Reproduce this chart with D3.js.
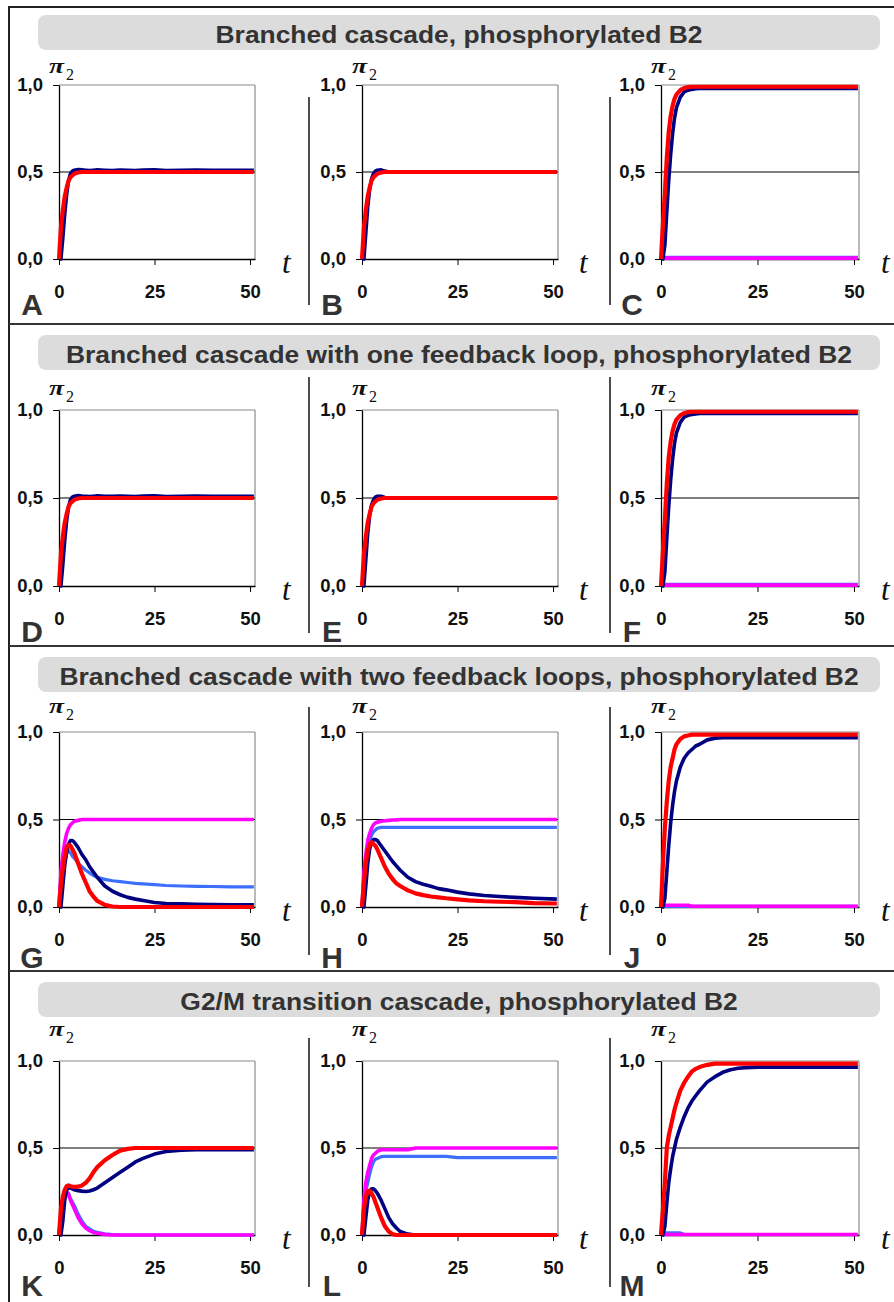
<!DOCTYPE html>
<html><head><meta charset="utf-8">
<script src="https://cdn.jsdelivr.net/npm/d3@7"></script>
<style>body{margin:0;background:#fff}svg{display:block}</style>
</head><body>
<svg id="c" width="894" height="1302"></svg>
<script>
// ---------- DATA ----------
const T = [0,0.5,1,1.5,2,2.5,3,3.5,4,5,6,7,8,9,10,12,14,16,18,20,22,25,28,32,36,40,45,51];
const yTickValues = [0,0.5,1];
const yTickLabels = ["0,0","0,5","1,0"];
const xTickValues = [0,25,50];
const xTickLabels = ["0","25","50"];
const rowTitles = [
  "Branched cascade, phosphorylated B2",
  "Branched cascade with one feedback loop, phosphorylated B2",
  "Branched cascade with two feedback loops, phosphorylated B2",
  "G2/M transition cascade, phosphorylated B2"
];
const panelLetters = ["A","B","C","D","E","F","G","H","J","K","L","M"];

const A_navy = [0,0,0.12,0.26,0.37,0.45,0.49,0.505,0.51,0.514,0.512,0.51,0.508,0.51,0.512,0.51,0.508,0.511,0.51,0.508,0.511,0.512,0.508,0.51,0.511,0.51,0.51,0.51];
const A_red  = [0,0.18,0.28,0.36,0.41,0.45,0.47,0.48,0.49,0.497,0.5,0.5,0.5,0.5,0.5,0.5,0.5,0.5,0.5,0.5,0.5,0.5,0.5,0.5,0.5,0.5,0.5,0.5];
const B_navy = [0,0,0.15,0.3,0.4,0.46,0.49,0.505,0.51,0.512,0.505,0.5,0.5,0.5,0.5,0.5,0.5,0.5,0.5,0.5,0.5,0.5,0.5,0.5,0.5,0.5,0.5,0.5];
const B_red  = [0,0.18,0.28,0.36,0.41,0.45,0.47,0.48,0.49,0.497,0.5,0.5,0.5,0.5,0.5,0.5,0.5,0.5,0.5,0.5,0.5,0.5,0.5,0.5,0.5,0.5,0.5,0.5];
const C_blue = [0.01,0.01,0.01,0.01,0.01,0.01,0.01,0.01,0.01,0.01,0.01,0.01,0.01,0.01,0.01,0.01,0.01,0.01,0.01,0.01,0.01,0.01,0.01,0.01,0.01,0.01,0.01,0.01];
const C_magenta = [0.005,0.005,0.005,0.005,0.005,0.005,0.005,0.005,0.005,0.005,0.005,0.005,0.005,0.005,0.005,0.005,0.005,0.005,0.005,0.005,0.005,0.005,0.005,0.005,0.005,0.005,0.005,0.005];
const C_navy = [0,0,0.08,0.27,0.45,0.6,0.72,0.81,0.87,0.93,0.96,0.97,0.975,0.978,0.98,0.98,0.98,0.98,0.98,0.98,0.98,0.98,0.98,0.98,0.98,0.98,0.98,0.98];
const C_red  = [0,0.2,0.38,0.58,0.73,0.82,0.88,0.92,0.945,0.97,0.982,0.988,0.99,0.99,0.99,0.99,0.99,0.99,0.99,0.99,0.99,0.99,0.99,0.99,0.99,0.99,0.99,0.99];

const D_navy = [0,0,0.12,0.26,0.37,0.45,0.49,0.505,0.51,0.514,0.511,0.51,0.508,0.51,0.512,0.51,0.509,0.511,0.51,0.508,0.511,0.512,0.508,0.51,0.511,0.51,0.51,0.51];
const D_red  = [0,0.18,0.28,0.36,0.41,0.45,0.47,0.48,0.49,0.497,0.5,0.5,0.5,0.5,0.5,0.5,0.5,0.5,0.5,0.5,0.5,0.5,0.5,0.5,0.5,0.5,0.5,0.5];
const E_navy = [0,0,0.15,0.3,0.4,0.46,0.49,0.505,0.51,0.51,0.503,0.5,0.5,0.5,0.5,0.5,0.5,0.5,0.5,0.5,0.5,0.5,0.5,0.5,0.5,0.5,0.5,0.5];
const E_red  = [0,0.18,0.28,0.36,0.41,0.45,0.47,0.48,0.49,0.497,0.5,0.5,0.5,0.5,0.5,0.5,0.5,0.5,0.5,0.5,0.5,0.5,0.5,0.5,0.5,0.5,0.5,0.5];
const F_blue = [0.01,0.01,0.01,0.01,0.01,0.01,0.01,0.01,0.01,0.01,0.01,0.01,0.01,0.01,0.01,0.01,0.01,0.01,0.01,0.01,0.01,0.01,0.01,0.01,0.01,0.01,0.01,0.01];
const F_magenta = [0.005,0.005,0.005,0.005,0.005,0.005,0.005,0.005,0.005,0.005,0.005,0.005,0.005,0.005,0.005,0.005,0.005,0.005,0.005,0.005,0.005,0.005,0.005,0.005,0.005,0.005,0.005,0.005];
const F_navy = [0,0,0.08,0.27,0.45,0.6,0.72,0.81,0.87,0.93,0.96,0.97,0.975,0.978,0.98,0.98,0.98,0.98,0.98,0.98,0.98,0.98,0.98,0.98,0.98,0.98,0.98,0.98];
const F_red  = [0,0.2,0.38,0.58,0.73,0.82,0.88,0.92,0.945,0.97,0.982,0.988,0.99,0.99,0.99,0.99,0.99,0.99,0.99,0.99,0.99,0.99,0.99,0.99,0.99,0.99,0.99,0.99];

const G_blue = [0,0.1,0.2,0.27,0.31,0.32,0.31,0.29,0.28,0.25,0.23,0.21,0.195,0.18,0.17,0.158,0.15,0.145,0.14,0.135,0.132,0.128,0.123,0.12,0.118,0.117,0.115,0.115];
const G_magenta = [0,0.2,0.3,0.37,0.42,0.45,0.47,0.48,0.49,0.495,0.5,0.5,0.5,0.5,0.5,0.5,0.5,0.5,0.5,0.5,0.5,0.5,0.5,0.5,0.5,0.5,0.5,0.5];
const G_navy = [0,0,0.12,0.24,0.31,0.36,0.38,0.38,0.37,0.34,0.3,0.27,0.23,0.2,0.17,0.12,0.09,0.07,0.055,0.045,0.037,0.026,0.02,0.018,0.016,0.014,0.012,0.012];
const G_red  = [0,0.13,0.22,0.29,0.34,0.355,0.35,0.33,0.31,0.25,0.19,0.14,0.09,0.06,0.035,0.012,0.003,0,0,0,0,0,0,0,0,0,0,0];

const H_blue = [0,0.17,0.27,0.33,0.38,0.41,0.43,0.44,0.45,0.455,0.455,0.455,0.455,0.455,0.455,0.455,0.455,0.455,0.455,0.455,0.455,0.455,0.455,0.455,0.455,0.455,0.455,0.455];
const H_magenta = [0,0.2,0.3,0.38,0.42,0.45,0.47,0.48,0.485,0.49,0.493,0.495,0.497,0.498,0.5,0.5,0.5,0.5,0.5,0.5,0.5,0.5,0.5,0.5,0.5,0.5,0.5,0.5];
const H_navy = [0,0,0.12,0.25,0.33,0.37,0.385,0.385,0.38,0.35,0.32,0.29,0.26,0.235,0.21,0.17,0.145,0.13,0.118,0.105,0.098,0.085,0.075,0.066,0.06,0.055,0.05,0.045];
const H_red  = [0,0.14,0.25,0.32,0.36,0.37,0.36,0.35,0.33,0.28,0.23,0.19,0.16,0.135,0.12,0.095,0.078,0.068,0.06,0.055,0.05,0.044,0.038,0.033,0.03,0.028,0.022,0.02];

const J_blue = [0.004,0.004,0.004,0.004,0.004,0.004,0.004,0.004,0.004,0.004,0.004,0.004,0.004,0.004,0.004,0.004,0.004,0.004,0.004,0.004,0.004,0.004,0.004,0.004,0.004,0.004,0.004,0.004];
const J_magenta = [0.01,0.01,0.01,0.01,0.01,0.01,0.01,0.01,0.01,0.01,0.01,0.01,0.004,0.004,0.004,0.004,0.004,0.004,0.004,0.004,0.004,0.004,0.004,0.004,0.004,0.004,0.004,0.004];
const J_navy = [0,0,0.05,0.2,0.35,0.48,0.58,0.66,0.72,0.8,0.85,0.88,0.9,0.92,0.93,0.955,0.965,0.967,0.967,0.967,0.967,0.967,0.967,0.967,0.967,0.967,0.967,0.967];
const J_red  = [0,0.25,0.45,0.6,0.72,0.8,0.85,0.9,0.93,0.96,0.975,0.98,0.985,0.985,0.985,0.985,0.985,0.985,0.985,0.985,0.985,0.985,0.985,0.985,0.985,0.985,0.985,0.985];

const K_blue = [0,0.1,0.18,0.23,0.25,0.24,0.21,0.19,0.17,0.12,0.08,0.05,0.035,0.022,0.015,0.007,0.003,0.001,0,0,0,0,0,0,0,0,0,0];
const K_magenta = [0,0.12,0.2,0.24,0.25,0.23,0.2,0.175,0.15,0.1,0.065,0.04,0.025,0.015,0.01,0.003,0,0,0,0,0,0,0,0,0,0,0,0];
const K_navy = [0,0,0.08,0.2,0.26,0.27,0.27,0.265,0.26,0.255,0.252,0.25,0.253,0.26,0.27,0.3,0.33,0.36,0.39,0.42,0.44,0.465,0.48,0.488,0.49,0.49,0.49,0.49];
const K_red  = [0,0.15,0.22,0.26,0.28,0.285,0.28,0.278,0.277,0.278,0.285,0.3,0.326,0.36,0.39,0.43,0.46,0.485,0.495,0.5,0.5,0.5,0.5,0.5,0.5,0.5,0.5,0.5];

const L_blue = [0,0.17,0.25,0.3,0.35,0.39,0.42,0.435,0.44,0.45,0.452,0.452,0.452,0.452,0.452,0.452,0.452,0.452,0.452,0.452,0.452,0.445,0.445,0.445,0.445,0.445,0.445,0.445];
const L_magenta = [0,0.2,0.3,0.36,0.4,0.44,0.46,0.47,0.48,0.49,0.49,0.49,0.49,0.49,0.49,0.49,0.5,0.5,0.5,0.5,0.5,0.5,0.5,0.5,0.5,0.5,0.5,0.5];
const L_navy = [0,0,0.1,0.2,0.25,0.265,0.265,0.255,0.24,0.2,0.15,0.1,0.065,0.04,0.02,0.005,0,0,0,0,0,0,0,0,0,0,0,0];
const L_red  = [0,0.15,0.22,0.25,0.255,0.24,0.22,0.19,0.16,0.1,0.05,0.02,0.005,0,0,0,0,0,0,0,0,0,0,0,0,0,0,0];

const M_blue = [0.012,0.012,0.012,0.012,0.012,0.012,0.012,0.012,0.012,0.012,0.003,0.003,0.003,0.003,0.003,0.003,0.003,0.003,0.003,0.003,0.003,0.003,0.003,0.003,0.003,0.003,0.003,0.003];
const M_magenta = [0.003,0.003,0.003,0.003,0.003,0.003,0.003,0.003,0.003,0.003,0.003,0.003,0.003,0.003,0.003,0.003,0.003,0.003,0.003,0.003,0.003,0.003,0.003,0.003,0.003,0.003,0.003,0.003];
const M_navy = [0,0,0.05,0.18,0.3,0.38,0.45,0.5,0.55,0.62,0.68,0.73,0.77,0.8,0.83,0.88,0.91,0.935,0.95,0.958,0.962,0.965,0.965,0.965,0.965,0.965,0.965,0.965];
const M_red  = [0,0.15,0.3,0.5,0.57,0.62,0.67,0.72,0.76,0.83,0.875,0.91,0.94,0.955,0.965,0.978,0.985,0.985,0.985,0.985,0.985,0.985,0.985,0.985,0.985,0.985,0.985,0.985];

// series per panel, in drawing order
const panelSeries = [
  [["navy",A_navy],["red",A_red]],
  [["navy",B_navy],["red",B_red]],
  [["blue",C_blue],["magenta",C_magenta],["navy",C_navy],["red",C_red]],
  [["navy",D_navy],["red",D_red]],
  [["navy",E_navy],["red",E_red]],
  [["blue",F_blue],["magenta",F_magenta],["navy",F_navy],["red",F_red]],
  [["blue",G_blue],["magenta",G_magenta],["navy",G_navy],["red",G_red]],
  [["blue",H_blue],["magenta",H_magenta],["navy",H_navy],["red",H_red]],
  [["blue",J_blue],["magenta",J_magenta],["navy",J_navy],["red",J_red]],
  [["blue",K_blue],["magenta",K_magenta],["navy",K_navy],["red",K_red]],
  [["blue",L_blue],["magenta",L_magenta],["navy",L_navy],["red",L_red]],
  [["blue",M_blue],["magenta",M_magenta],["navy",M_navy],["red",M_red]]
];

// ---------- LAYOUT / STYLE ----------
const colors = {navy:"#000080", red:"#ff0000", magenta:"#ff00ff", blue:"#3d6fff"};
const widths = {navy:3.6, red:4.2, magenta:3.6, blue:3.2};
const colLeft = [59,362,661], colRight = [255,558,859];
const rowTop = [85,410,732,1061], rowBottom = [259,586,907,1235];
const titleTop = [15,335,657,982];
const sepY = [324,646,971];
const letterY = [315,642,968,1296];
const subY = [80,402,720,1043];
const vsepX = [309,610];
const vsepRange = [[97,305],[377,633],[707,955],[1038,1287]];
const tX = [282,579,881];
const letterX = [32,332,632];
const SANS = "'Liberation Sans', Arial, Helvetica, sans-serif";
const SERIF = "'Liberation Serif', 'Times New Roman', serif";

const svg = d3.select("#c");
svg.append("rect").attr("x",0).attr("y",0).attr("width",894).attr("height",1302).attr("fill","#fff");

// outer frame and separators
svg.append("rect").attr("x",9).attr("y",7).attr("width",900).attr("height",1310)
  .attr("fill","none").attr("stroke","#222").attr("stroke-width",2);
sepY.forEach(y => svg.append("line").attr("x1",9).attr("x2",894).attr("y1",y).attr("y2",y)
  .attr("stroke","#333").attr("stroke-width",2));

// title bars
rowTitles.forEach((t,r) => {
  svg.append("rect").attr("x",38).attr("y",titleTop[r]).attr("width",842).attr("height",35)
    .attr("rx",8).attr("fill","#dcdcdc");
  svg.append("text").attr("transform",`translate(459,${titleTop[r]+28}) scale(1.1,1)`)
    .attr("text-anchor","middle").attr("font-family",SANS).attr("font-weight","bold")
    .attr("font-size",24).attr("fill","#333").text(t);
});

// column separators
vsepRange.forEach(rg => vsepX.forEach(x =>
  svg.append("line").attr("x1",x).attr("x2",x).attr("y1",rg[0]).attr("y2",rg[1])
    .attr("stroke","#111").attr("stroke-width",1.5)));

// panels
panelSeries.forEach((series,i) => {
  const r = Math.floor(i/3), c = i%3;
  const L = colLeft[c], R = colRight[c], Tp = rowTop[r], B = rowBottom[r];
  const x = d3.scaleLinear().domain([0,51.3]).range([L,R]);
  const y = d3.scaleLinear().domain([0,1]).range([B,Tp]);
  const g = svg.append("g");

  // top & right frame (gray)
  g.append("line").attr("x1",L).attr("x2",R).attr("y1",y(1)).attr("y2",y(1)).attr("stroke","#8a8a8a").attr("stroke-width",1.2);
  g.append("line").attr("x1",R).attr("x2",R).attr("y1",Tp).attr("y2",B).attr("stroke","#8a8a8a").attr("stroke-width",1.2);
  // gridline at 0.5
  g.append("line").attr("x1",L).attr("x2",R).attr("y1",y(0.5)).attr("y2",y(0.5)).attr("stroke","#000").attr("stroke-width",1);

  const ya = d3.axisLeft(y).tickValues(yTickValues).tickFormat((d,k)=>yTickLabels[k]).tickSize(6).tickSizeOuter(0).tickPadding(10);
  const xa = d3.axisBottom(x).tickValues(xTickValues).tickFormat((d,k)=>xTickLabels[k]).tickSize(6).tickSizeOuter(0).tickPadding(20);
  [ [ya,`translate(${L},0)`], [xa,`translate(0,${B})`] ].forEach(([ax,tr]) => {
    const a = g.append("g").attr("transform",tr).call(ax);
    a.select(".domain").attr("stroke","#000").attr("stroke-width",1.3);
    a.selectAll(".tick line").attr("stroke","#000").attr("stroke-width",1);
    a.selectAll(".tick text").attr("font-family",SANS).attr("font-weight","bold")
      .attr("font-size",18.5).attr("fill","#111");
  });

  // series lines
  const line = d3.line().x(d=>x(d[0])).y(d=>y(d[1]));
  series.forEach(([key,vals]) => {
    g.append("path").datum(vals.map((v,k)=>[T[k],v]))
      .attr("d",line).attr("fill","none").attr("stroke",colors[key])
      .attr("stroke-width",widths[key]).attr("stroke-linejoin","round");
  });

  // axis titles
  g.append("text").attr("transform",`translate(${L-10},${subY[r]-7}) scale(1.25,1)`)
    .attr("font-family",SERIF).attr("font-style","italic").attr("font-weight","bold")
    .attr("font-size",22).attr("fill","#111").text("π");
  g.append("text").attr("x",L+7).attr("y",subY[r]).attr("font-family",SERIF)
    .attr("font-size",16).attr("fill","#111").text("2");
  g.append("text").attr("x",tX[c]).attr("y",B+14).attr("font-family",SERIF).attr("font-style","italic")
    .attr("font-size",31).attr("fill","#111").text("t");

  // panel letter
  g.append("text").attr("x",letterX[c]).attr("y",letterY[r]).attr("text-anchor","middle")
    .attr("font-family",SANS).attr("font-weight","bold").attr("font-size",30).attr("fill","#333")
    .text(panelLetters[i]);
});
</script>
</body></html>
